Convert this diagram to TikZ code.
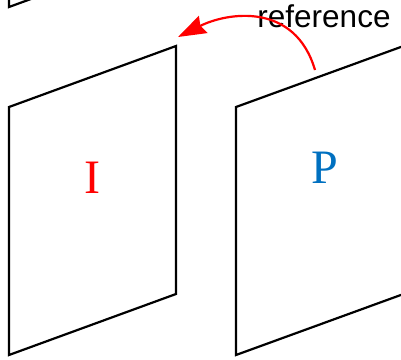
\documentclass[tikz,border=0pt]{standalone}
\usepackage{fontspec}
\setmainfont{Liberation Serif}
\newfontfamily\labelsans{Liberation Sans}
\usetikzlibrary{arrows.meta}
\definecolor{pblue}{RGB}{0,112,192}
\tikzset{
  plane/.style={draw=black, line width=2.2pt, line join=miter},
  letter/.style={font=\fontsize{48}{48}\selectfont, anchor=base, inner sep=0pt},
  reflabel/.style={font=\labelsans\fontsize{31.5}{31.5}\selectfont, anchor=base, inner sep=0pt},
  refarrow/.style={draw=red, line width=2.2pt, -{Stealth[length=28pt,width=19pt,inset=3pt]}}
}
\begin{document}
\begin{tikzpicture}[x=1pt,y=-1pt]
\useasboundingbox (0,0) rectangle (401,359);
\clip (0,0) rectangle (401,359);
% partial plane at top-left
\draw[plane] (9,-60) -- (9,7) -- (176,-54);
% left plane
\draw[plane] (9,107) -- (176,46) -- (176,294) -- (9,355) -- cycle;
% right plane
\draw[plane] (420,40) -- (236,107) -- (236,355) -- (420,288);
\node[letter, text=red] (I) at (92,193) {I};
\node[letter, text=pblue] (P) at (324.5,183) {P};
\node[reflabel] (ref) at (324,27) {reference};
\coordinate (from) at (315,70);
\coordinate (to) at (178,37);
\draw[refarrow] (from) .. controls (295,2) and (228,12) .. (to);
\end{tikzpicture}
\end{document}
